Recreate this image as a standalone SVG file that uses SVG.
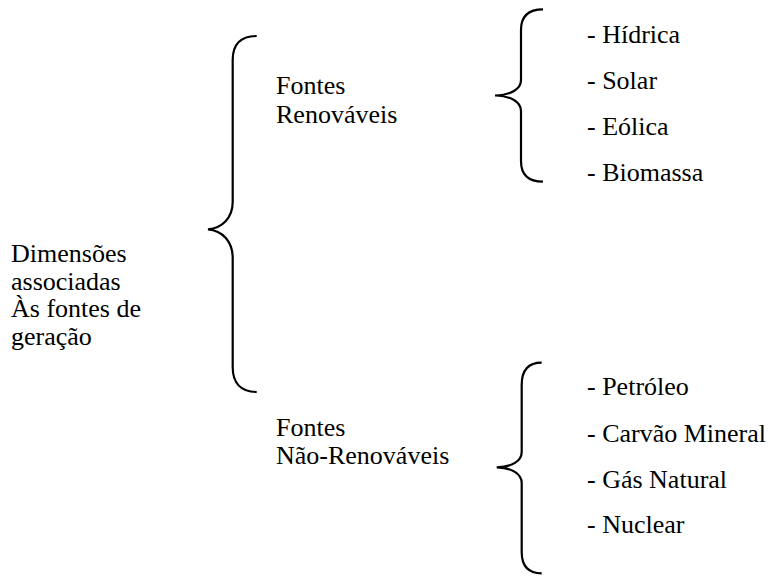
<svg xmlns="http://www.w3.org/2000/svg" width="771" height="577" viewBox="0 0 771 577" font-family="Liberation Serif, Times New Roman, Tinos, DejaVu Serif, serif" font-size="26">
<style>
.brace{fill:none;stroke:#000;stroke-width:2.2;stroke-linecap:butt}
</style>
<rect width="771" height="577" fill="#fff"/>
<g id="connectors">
<path class="brace" d="M256.7,36 C241,36 232.7,44 232.7,60 L232.7,202 C232.7,218 222,228 208,229.3 C222,230.5 232.7,241 232.7,258 L232.7,367 C232.7,383 241,392 256.7,392"/>
<path class="brace" d="M543,9.3 C529,9.3 521,16 521,30 L521,80 C521,89 511,95 495,95.5 C511,96 521,102 521,111 L521,161 C521,175 529,181.7 543,181.7"/>
<path class="brace" d="M541.7,362.7 C528,362.7 521.7,370 521.7,385 L521.7,452 C521.7,461 512,467 496.7,467.3 C512,467.6 521.7,474 521.7,483 L521.7,552 C521.7,566 528,573.3 541.7,573.3"/>
</g>
<g id="root">
<text x="11" y="262">Dimensões</text>
<text x="11" y="289.5">associadas</text>
<text x="11" y="317">Às fontes de</text>
<text x="11" y="344.5">geração</text>
</g>
<g id="renovaveis">
<text x="276" y="94.3">Fontes</text>
<text x="276" y="123.3">Renováveis</text>
</g>
<g id="nao-renovaveis">
<text x="276" y="435.7">Fontes</text>
<text x="276" y="463.7">Não-Renováveis</text>
</g>
<g id="lista-renovaveis">
<text x="587" y="43.3">- Hídrica</text>
<text x="587" y="89.3">- Solar</text>
<text x="587" y="135">- Eólica</text>
<text x="587" y="181">- Biomassa</text>
</g>
<g id="lista-nao-renovaveis">
<text x="587" y="395">- Petróleo</text>
<text x="587" y="441.7">- Carvão Mineral</text>
<text x="587" y="488.3">- Gás Natural</text>
<text x="587" y="533.3">- Nuclear</text>
</g>
</svg>
